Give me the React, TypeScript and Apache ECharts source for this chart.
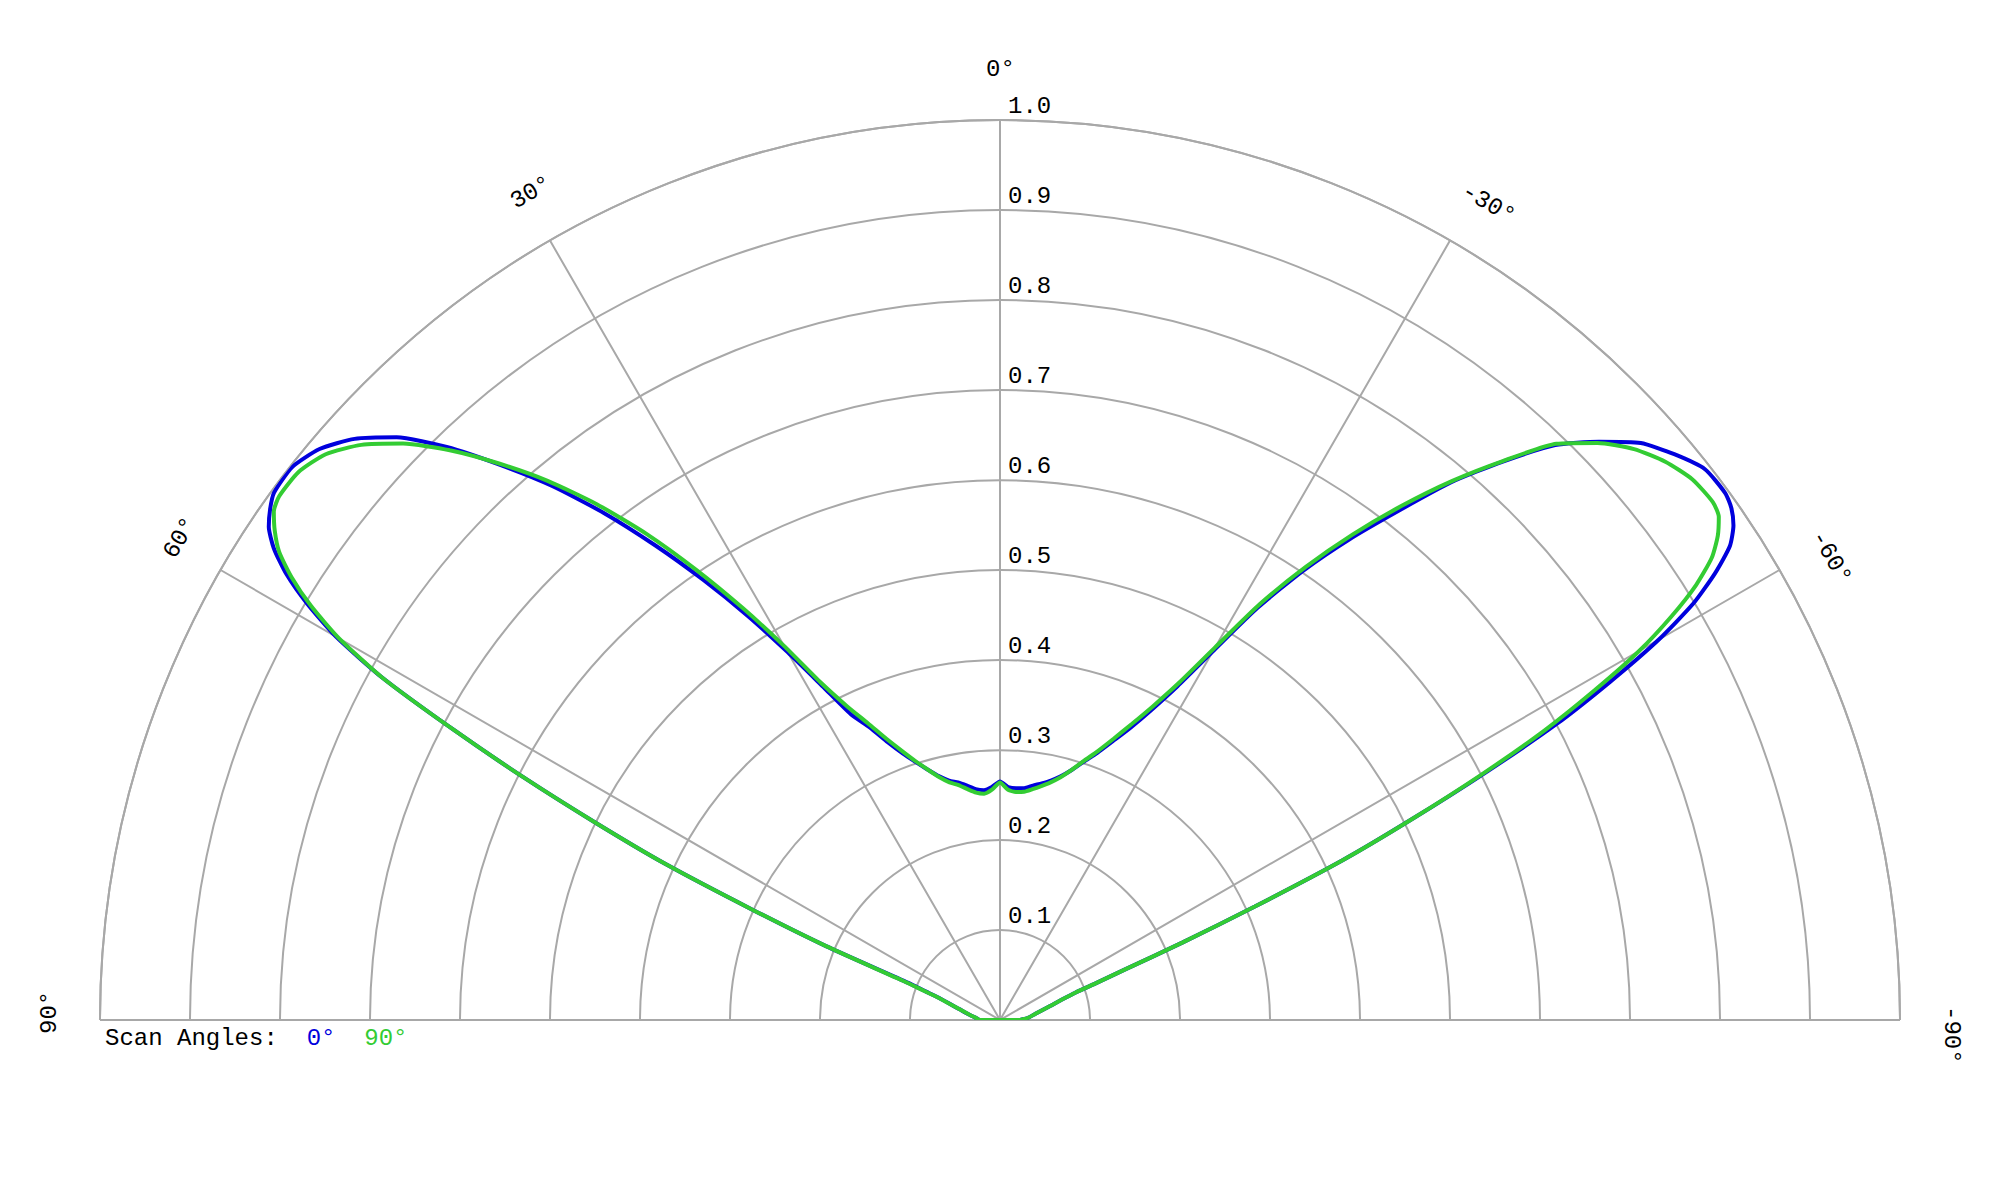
import React, { useEffect, useRef } from 'react'
import * as echarts from 'echarts'

// scan angle (deg) along the polar angle axis, -90 (right) .. 90 (left)
const scanAngles = [
  -90, -85, -80, -75, -70, -69, -68, -67, -66, -65, -64, -63, -62, -61, -60, -59, -58, -57, -56, -55,
  -54, -52, -50, -48, -46, -44, -42, -40, -38, -36, -34, -32, -30, -28, -26, -24, -22, -20, -18, -16,
  -14, -12, -10, -8, -6, -4, -2, 0, 2, 4, 6, 8, 10, 12, 14, 16, 18, 20, 22, 24, 26, 28, 30, 32, 34, 36,
  38, 40, 42, 44, 46, 48, 50, 52, 54, 55, 56, 57, 58, 59, 60, 61, 62, 63, 64, 65, 66, 67, 68, 69, 70,
  75, 80, 85, 90
]

// normalised pattern, scan angle 0°
const gain0 = [
  0.0225, 0.032, 0.04, 0.055, 0.09, 0.115, 0.15, 0.22, 0.31, 0.42, 0.51, 0.605, 0.70, 0.775, 0.845, 0.899, 0.937, 0.967, 0.983, 0.992,
  0.996, 0.994, 0.978, 0.958, 0.925, 0.888, 0.835, 0.78, 0.717, 0.66, 0.602, 0.54, 0.473, 0.42, 0.383, 0.355, 0.334, 0.316, 0.302, 0.289,
  0.279, 0.272, 0.267, 0.263, 0.259, 0.258, 0.259, 0.265, 0.259, 0.256, 0.258, 0.263, 0.268, 0.272, 0.279, 0.289, 0.301, 0.315, 0.333, 0.356, 0.378, 0.42, 0.472, 0.53, 0.59, 0.652,
  0.715, 0.775, 0.83, 0.885, 0.932, 0.965, 0.987, 0.998, 0.997, 0.99, 0.98, 0.962, 0.935, 0.898, 0.852, 0.785, 0.69, 0.595, 0.50, 0.41, 0.30, 0.21, 0.11, 0.088, 0.073,
  0.047, 0.035, 0.027, 0.0225
]

// normalised pattern, scan angle 90°
const gain90 = [
  0.0225, 0.032, 0.04, 0.055, 0.09, 0.115, 0.15, 0.22, 0.31, 0.42, 0.51, 0.6, 0.685, 0.755, 0.82, 0.87, 0.912, 0.943, 0.962, 0.975,
  0.979, 0.976, 0.965, 0.948, 0.923, 0.89, 0.836, 0.782, 0.725, 0.667, 0.607, 0.545, 0.478, 0.425, 0.388, 0.36, 0.337, 0.318, 0.303, 0.289,
  0.278, 0.27, 0.264, 0.259, 0.255, 0.254, 0.256, 0.264, 0.256, 0.252, 0.254, 0.259, 0.265, 0.27, 0.278, 0.289, 0.302, 0.318, 0.337, 0.361, 0.388, 0.425, 0.48, 0.54, 0.603, 0.667,
  0.727, 0.782, 0.832, 0.88, 0.922, 0.955, 0.978, 0.989, 0.99, 0.985, 0.972, 0.955, 0.928, 0.893, 0.848, 0.785, 0.69, 0.595, 0.50, 0.41, 0.30, 0.21, 0.115, 0.09, 0.074,
  0.047, 0.035, 0.027, 0.0225
]

const seriesNames = ['0°', '90°']
const seriesColors = ['#0000dd', '#33cc33']
const angleTicks = [90, 60, 30, 0, -30, -60, -90]

const FONT = "'Courier New', 'Liberation Mono', monospace"
const GRID = '#a8a8a8'
const CX = 1000
const CY = 1020
const R = 900
const LABEL_R = 951

const toPolar = (gains: number[]) => {
  const pts = scanAngles.map((a, i) => [gains[i], a])
  // the trace is closed back across the origin
  pts.push([gains[0], scanAngles[0]])
  return pts
}

const App = () => {
  const chartRef = useRef<HTMLDivElement>(null)

  useEffect(() => {
    document.body.style.margin = '0'
    if (!chartRef.current) return
    const chart = echarts.init(chartRef.current, undefined, { renderer: 'svg' })

    const angleLabels = angleTicks.map((v) => {
      const t = ((90 + v) * Math.PI) / 180
      return {
        type: 'group',
        x: CX + LABEL_R * Math.cos(t),
        y: CY - LABEL_R * Math.sin(t),
        rotation: (v * Math.PI) / 180,
        children: [
          {
            type: 'text',
            x: -14,
            style: {
              text: `${v}°`,
              fill: '#000',
              fontSize: 24,
              fontFamily: FONT,
              align: 'left',
              verticalAlign: 'middle',
              textAlign: 'left',
              textVerticalAlign: 'middle'
            }
          }
        ]
      }
    })

    const rich: Record<string, unknown> = {}
    seriesNames.forEach((_, i) => {
      rich['s' + i] = { fill: seriesColors[i], color: seriesColors[i], fontSize: 24, fontFamily: FONT }
    })
    const legendText = 'Scan Angles:' + seriesNames.map((n, i) => `  {s${i}|${n}}`).join('')

    const lineSeries = (i: number, gains: number[]) => ({
      name: seriesNames[i],
      type: 'line',
      coordinateSystem: 'polar',
      polarIndex: 0,
      showSymbol: false,
      symbol: 'none',
      smooth: 0.2,
      lineStyle: { color: seriesColors[i], width: 4 },
      itemStyle: { color: seriesColors[i] },
      data: toPolar(gains)
    })

    chart.setOption({
      animation: false,
      backgroundColor: '#fff',
      polar: [
        { center: [CX, CY], radius: R },
        { center: [CX, CY], radius: R }
      ],
      angleAxis: [
        {
          polarIndex: 0,
          type: 'value',
          min: -90,
          max: 90,
          interval: 30,
          startAngle: 0,
          endAngle: 180,
          clockwise: false,
          axisLine: { show: true, lineStyle: { color: GRID, width: 2 } },
          axisTick: { show: false },
          axisLabel: { show: false },
          splitLine: { show: true, lineStyle: { color: GRID, width: 2 } }
        },
        {
          polarIndex: 1,
          type: 'value',
          min: 0,
          max: 360,
          startAngle: 90,
          axisLine: { show: false },
          axisTick: { show: false },
          axisLabel: { show: false },
          splitLine: { show: false }
        }
      ],
      radiusAxis: [
        {
          polarIndex: 0,
          type: 'value',
          min: 0,
          max: 1,
          interval: 0.1,
          axisLine: { show: false },
          axisTick: { show: false },
          axisLabel: { show: false },
          splitLine: { show: true, lineStyle: { color: GRID, width: 2 } }
        },
        {
          polarIndex: 1,
          type: 'value',
          min: 0,
          max: 1,
          interval: 0.1,
          axisLine: { show: false },
          axisTick: { show: false },
          splitLine: { show: false },
          axisLabel: {
            show: true,
            margin: -8,
            align: 'left',
            verticalAlign: 'bottom',
            padding: [0, 0, 2, 0],
            color: '#000',
            fontSize: 24,
            fontFamily: FONT,
            formatter: (v: number) => (v === 0 ? '' : v.toFixed(1))
          }
        }
      ],
      series: [lineSeries(0, gain0), lineSeries(1, gain90)],
      graphic: [
        ...angleLabels,
        {
          type: 'text',
          x: 105,
          y: 1038,
          style: {
            text: legendText,
            rich,
            fill: '#000',
            fontSize: 24,
            fontFamily: FONT,
            align: 'left',
            verticalAlign: 'middle',
            textAlign: 'left',
            textVerticalAlign: 'middle'
          }
        }
      ]
    })

    return () => {
      chart.dispose()
    }
  }, [])

  return <div ref={chartRef} style={{ width: '2000px', height: '1200px' }} />
}

export default App
